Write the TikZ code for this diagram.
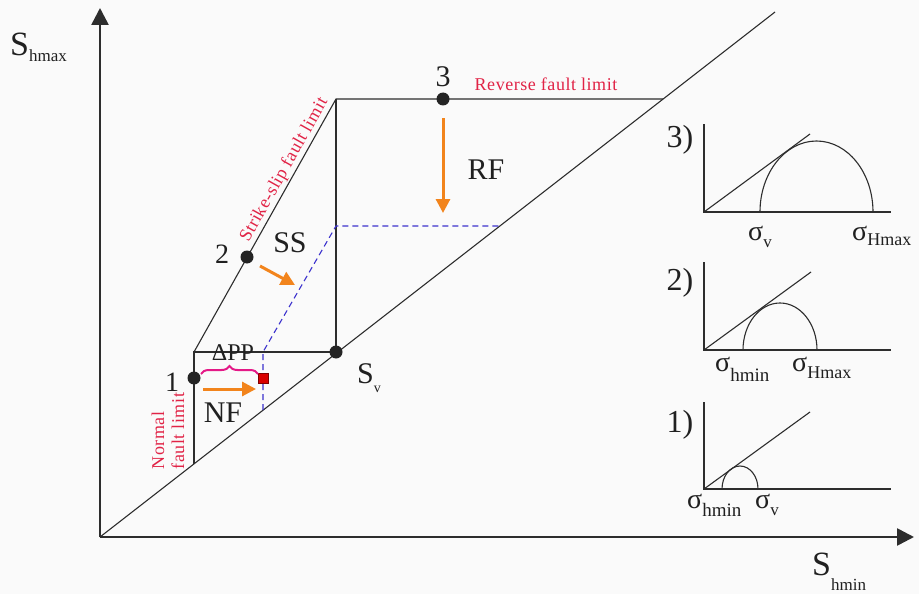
\documentclass[tikz,border=0pt]{standalone}
\usepackage{fontspec}
\setmainfont{Liberation Serif}
\newfontfamily\redfont[LetterSpace=3]{Liberation Serif}
\usetikzlibrary{arrows.meta,decorations.pathreplacing}

\definecolor{faultred}{RGB}{225,35,70}
\definecolor{arrorange}{RGB}{242,132,28}
\definecolor{dashblue}{RGB}{60,50,205}
\definecolor{bracemag}{RGB}{228,25,135}
\definecolor{linegray}{RGB}{45,45,45}
\definecolor{bggray}{RGB}{250,250,250}

\newcommand\fs[1]{\fontsize{#1}{#1}\selectfont}
% big letter with a lowered small index
\newcommand\sublbl[5][6pt]{{\fs{#2}#3}{\fs{#4}\raisebox{-#1}{#5}}}

\tikzset{
  axis/.style={line width=2.6pt,linegray,-{Triangle[length=17pt,width=17pt]}},
  frameline/.style={line width=1.1pt,linegray},
  mohr/.style={line width=1.1pt,linegray},
  shifted/.style={line width=1.1pt,dashblue,dash pattern=on 6pt off 4pt},
  stressdot/.style={circle,fill=linegray!80!black,inner sep=0pt,minimum size=13pt},
  ppbox/.style={rectangle,fill=red!85!black,draw=red!50!black,line width=0.8pt,inner sep=0pt,minimum size=10pt},
  ppbrace/.style={bracemag,line width=2pt,decorate,decoration={brace,amplitude=8pt}},
  shiftarrow/.style={line width=3pt,arrorange,-{Triangle[length=14pt,width=14pt]}},
  lbl/.style={inner sep=0pt,text=linegray!70!black},
  redlbl/.style={inner sep=1.5pt,text=faultred,font={\redfont\fontsize{18}{20}\selectfont}},
}

\begin{document}
\begin{tikzpicture}[x=1pt,y=-1pt]
\fill[bggray] (0,0) rectangle (919,594);
\useasboundingbox (0,0) rectangle (919,594);

% axes
\coordinate (O) at (100,537);
\coordinate (ytip) at (100,8);
\coordinate (xtip) at (914,537);
\draw[axis] (O) -- (ytip);
\draw[axis] (O) -- (xtip);
\node[lbl,anchor=base west] (ylab) at (10,56) {\sublbl{34}{S}{17}{hmax}};
\node[lbl,anchor=base west] (xlab) at (812,575) {\sublbl[15pt]{34}{S}{17}{hmin}};

% fault limits
\coordinate (D) at (775,12);
\coordinate (nfTop) at (194,352);
\coordinate (nfBot) at (194,464);
\coordinate (Sv) at (336,352);
\coordinate (ssTop) at (336,99);
\coordinate (rfEnd) at (663,99);
\draw[frameline] (O) -- (D);
\draw[frameline] (nfBot) -- (nfTop) -- (Sv) -- (ssTop);
\draw[frameline] (nfTop) -- node[pos=0.7,sloped,above,redlbl] (sslim) {Strike-slip fault limit} (ssTop) -- (rfEnd);
\node[redlbl,anchor=base] (rflim) at (546,91) {Reverse fault limit};
\node[redlbl,rotate=90,align=left,anchor=west] (nflim) at (168,471) {Normal\\fault limit};

% limits after pore pressure rise
\coordinate (dB) at (263,410);
\coordinate (dC) at (263,352);
\coordinate (dD) at (336,226);
\coordinate (dE) at (500,226);
\draw[shifted] (dB) -- (dC) -- (dD) -- (dE);

% stress states
\node[stressdot] (p1) at (194,378) {};
\node[stressdot] (p2) at (247,257) {};
\node[stressdot] (p3) at (443,99) {};
\node[stressdot] (pSv) at (Sv) {};
\node[lbl,font=\fs{28}] (n1) at (172,382) {1};
\node[lbl,font=\fs{28}] (n2) at (222,254) {2};
\node[lbl,font=\fs{30}] (n3) at (443,77) {3};
\node[lbl,anchor=base west] (svlab) at (357,383) {\sublbl[9pt]{30}{S}{14}{v}};

% pore pressure
\node[ppbox] (pp) at (263,378) {};
\coordinate (brL) at (201,374);
\coordinate (brR) at (258,374);
\draw[ppbrace] (brL) -- (brR);
\node[lbl,font=\fs{24}] (dpp) at (233,353) {ΔPP};

% shifts
\coordinate (nfS) at (203,389);
\coordinate (nfE) at (256,389);
\draw[shiftarrow] (nfS) -- (nfE);
\node[lbl,font=\fs{30}] (nf) at (223,413) {NF};
\coordinate (ssS) at (260,266);
\coordinate (ssE) at (295,285);
\draw[shiftarrow] (ssS) -- (ssE);
\node[lbl,font=\fs{30}] (ss) at (290,243) {SS};
\coordinate (rfS) at (443,118);
\coordinate (rfE) at (443,213);
\draw[shiftarrow] (rfS) -- (rfE);
\node[lbl,font=\fs{30}] (rf) at (486,170) {RF};

% Mohr circles, 3)
\coordinate (m3o) at (704,212);
\coordinate (m3y) at (704,124);
\coordinate (m3x) at (891,212);
\coordinate (m3t) at (810,134);
\coordinate (m3a) at (760,212);
\draw[mohr] (m3y) -- (m3o) -- (m3x);
\draw[mohr] (m3o) -- (m3t);
\draw[mohr] (m3a) arc[start angle=180,end angle=360,x radius=56.5,y radius=71];
\node[lbl,font=\fs{32}] (m3n) at (680,140) {3)};
\node[lbl,anchor=base west] (m3l) at (748,240) {\sublbl[7pt]{28}{σ}{17}{v}};
\node[lbl,anchor=base west] (m3r) at (852,240) {\sublbl[5pt]{28}{σ}{18}{Hmax}};

% Mohr circles, 2)
\coordinate (m2o) at (704,350);
\coordinate (m2y) at (704,262);
\coordinate (m2x) at (891,350);
\coordinate (m2t) at (811,272);
\coordinate (m2a) at (743,350);
\draw[mohr] (m2y) -- (m2o) -- (m2x);
\draw[mohr] (m2o) -- (m2t);
\draw[mohr] (m2a) arc[start angle=180,end angle=360,x radius=37,y radius=47];
\node[lbl,font=\fs{32}] (m2n) at (680,283) {2)};
\node[lbl,anchor=base west] (m2l) at (715,371) {\sublbl[10pt]{28}{σ}{19}{hmin}};
\node[lbl,anchor=base west] (m2r) at (792,371) {\sublbl[7pt]{28}{σ}{18}{Hmax}};

% Mohr circles, 1)
\coordinate (m1o) at (704,489);
\coordinate (m1y) at (704,402);
\coordinate (m1x) at (891,489);
\coordinate (m1t) at (810,412);
\coordinate (m1a) at (722,489);
\draw[mohr] (m1y) -- (m1o) -- (m1x);
\draw[mohr] (m1o) -- (m1t);
\draw[mohr] (m1a) arc[start angle=180,end angle=360,x radius=18,y radius=23];
\node[lbl,font=\fs{32}] (m1n) at (680,425) {1)};
\node[lbl,anchor=base west] (m1l) at (687,508) {\sublbl[8pt]{28}{σ}{19}{hmin}};
\node[lbl,anchor=base west] (m1r) at (755,508) {\sublbl[7pt]{28}{σ}{17}{v}};
\end{tikzpicture}
\end{document}
